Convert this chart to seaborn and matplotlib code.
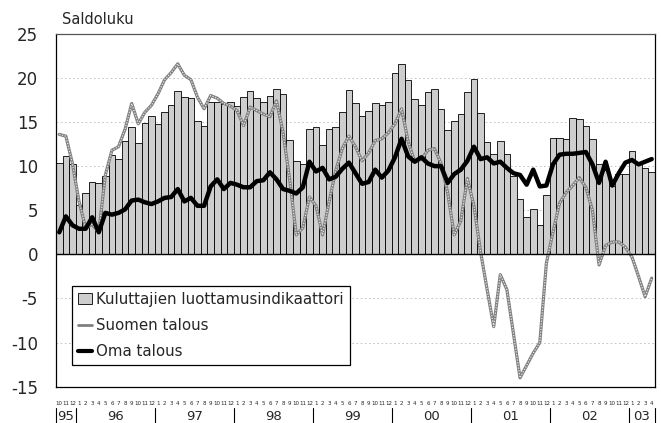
import matplotlib
matplotlib.use("Agg")
import matplotlib.pyplot as plt
import seaborn as sns
import pandas as pd
from matplotlib.patches import Patch
from matplotlib.lines import Line2D

# --- data (monthly, 10/1995 - 4/2003) ---
month_labels = ["10", "11", "12"] + [str(m) for m in range(1, 13)] * 7 + ["1", "2", "3", "4"]
year_labels = ["95", "96", "97", "98", "99", "00", "01", "02", "03"]
year_lengths = [3, 12, 12, 12, 12, 12, 12, 12, 4]

kuluttajat = [
    10.3, 11.2, 10.2, 5.6, 6.9, 8.2, 8.1, 8.9, 11.3, 10.8, 12.8, 14.4,
    12.6, 14.9, 15.7, 14.8, 16.1, 16.9, 18.5, 17.8, 17.7, 15.1, 14.5, 17.3,
    17.3, 17.0, 17.3, 16.8, 17.8, 18.5, 17.7, 17.3, 17.9, 18.8, 18.2, 13.0,
    10.6, 10.2, 14.2, 14.4, 12.4, 14.2, 14.4, 16.1, 18.6, 17.2, 15.7, 16.3,
    17.2, 16.9, 17.3, 20.6, 21.6, 19.8, 17.6, 16.9, 18.4, 18.7, 16.5, 14.1,
    15.1, 15.9, 18.4, 19.9, 16.0, 12.7, 11.4, 12.9, 11.4, 8.9, 6.3, 4.2,
    5.1, 3.3, 6.7, 13.2, 13.2, 13.1, 15.5, 15.4, 14.6, 13.1, 10.2, 9.6,
    7.8, 9.1, 9.1, 11.7, 10.3, 9.8, 9.3,
]
suomen = [
    13.6, 13.4, 10.3, 6.0, 3.0, 3.4, 2.5, 9.0, 11.8, 12.2, 14.2, 17.1,
    14.8, 16.1, 16.9, 18.2, 19.8, 20.6, 21.6, 20.3, 19.8, 17.8, 16.5, 18.0,
    17.7, 17.1, 16.8, 16.3, 14.6, 16.7, 16.3, 15.9, 15.6, 17.4, 13.8, 8.5,
    2.2, 3.0, 6.5, 5.5, 2.2, 6.0, 9.5, 12.0, 13.4, 12.2, 10.6, 11.5,
    12.9, 13.1, 13.8, 14.8, 16.5, 12.8, 10.5, 10.8, 11.8, 12.0, 10.3, 7.0,
    2.2, 3.8, 8.6, 5.5, 0.3, -4.0, -8.2, -2.3, -4.0, -9.0, -14.0, -12.6,
    -11.2, -10.0, -1.0, 2.5, 5.8, 7.0, 7.8, 8.7, 7.6, 5.0, -1.2, 1.0,
    1.4, 1.4, 0.8, -0.3, -2.5, -4.8, -2.7,
]
oma = [
    2.5, 4.3, 3.3, 2.9, 2.9, 4.2, 2.5, 4.7, 4.5, 4.7, 5.1, 6.1,
    6.2, 5.9, 5.7, 6.0, 6.4, 6.5, 7.4, 6.0, 6.4, 5.5, 5.5, 7.7,
    8.5, 7.4, 8.1, 7.9, 7.6, 7.6, 8.3, 8.4, 9.3, 8.5, 7.4, 7.2,
    6.9, 7.6, 10.5, 9.4, 9.8, 8.5, 8.8, 9.7, 10.4, 9.2, 8.0, 8.2,
    9.6, 8.7, 9.5, 11.0, 13.1, 11.1, 10.5, 11.0, 10.3, 10.0, 10.0, 8.1,
    9.1, 9.6, 10.6, 12.2, 10.8, 11.0, 10.3, 10.5, 9.8, 9.2, 9.0, 7.9,
    9.6, 7.7, 7.8, 10.2, 11.3, 11.4, 11.4, 11.5, 11.6, 10.2, 8.1, 10.5,
    7.8, 9.2, 10.4, 10.7, 10.2, 10.5, 10.8,
]

df = pd.DataFrame({
    "idx": range(len(kuluttajat)),
    "kuluttajat": kuluttajat,
    "suomen": suomen,
    "oma": oma,
})

sns.set_theme(style="white")
plt.rcParams["font.family"] = ["Liberation Sans Narrow", "DejaVu Sans"]
plt.rcParams["axes.unicode_minus"] = False

fig = plt.figure(figsize=(6.61, 4.23), dpi=100)
ax = fig.add_axes([0.0847, 0.086, 0.9062, 0.834])

bar_color = "#cecece"
sns.barplot(data=df, x="idx", y="kuluttajat", color=bar_color, saturation=1,
            width=1.0, edgecolor="black", linewidth=0.6, ax=ax, zorder=2)

# Suomen talous: grey "stippled" line
sns.lineplot(data=df, x="idx", y="suomen", color="#808080", linewidth=2.3, ax=ax, zorder=3)
ax.plot(df["idx"], df["suomen"], color="#e6e6e6", linewidth=0.9,
        dashes=(1, 1.2), zorder=4)
# Oma talous: thick black line
sns.lineplot(data=df, x="idx", y="oma", color="black", linewidth=3.2, ax=ax, zorder=5)

ax.axhline(0, color="black", linewidth=1.0, zorder=6)

ax.set_xlim(-0.5, len(kuluttajat) - 0.5)
ax.set_ylim(-15, 25)
ax.set_yticks(range(-15, 30, 5))
ax.set_yticklabels([str(v) for v in range(-15, 30, 5)], fontsize=12)
ax.yaxis.grid(True, color="#bbbbbb", linestyle=(0, (2, 3)), linewidth=0.6)
ax.set_axisbelow(True)
ax.tick_params(axis="y", length=0, pad=13)

ax.set_xticks(range(len(month_labels)))
ax.set_xticklabels(month_labels, fontsize=4.0)
ax.tick_params(axis="x", length=0, pad=10)
ax.set_xlabel("")
ax.set_ylabel("")

for s in ax.spines.values():
    s.set_visible(True)
    s.set_color("black")
    s.set_linewidth(0.9)
ax.spines["top"].set_color("#555555")

# year labels and separators under the month labels
trans = ax.get_xaxis_transform()
start = 0
for lab, n in zip(year_labels, year_lengths):
    ax.plot([start - 0.5, start - 0.5], [-0.062, -0.11], transform=trans,
            color="black", linewidth=0.8, clip_on=False)
    ax.text(start + (n - 1) / 2, -0.066, lab, transform=trans, ha="center",
            va="top", fontsize=9.5)
    start += n
ax.plot([start - 0.5, start - 0.5], [-0.062, -0.11], transform=trans,
        color="black", linewidth=0.8, clip_on=False)

fig.text(0.094, 0.955, "Saldoluku", fontsize=10.5, ha="left", va="center")

handles = [
    Patch(facecolor=bar_color, edgecolor="black", linewidth=0.6),
    Line2D([], [], color="#808080", linewidth=2.0),
    Line2D([], [], color="black", linewidth=3.0),
]
labels = ["Kuluttajien luottamusindikaattori", "Suomen talous", "Oma talous"]
leg = ax.legend(handles, labels, loc="lower left", bbox_to_anchor=(0.015, 0.04),
                fontsize=10.8, frameon=True, fancybox=False, edgecolor="black",
                handlelength=0.9, handletextpad=0.3, borderpad=0.4,
                labelspacing=0.75, framealpha=1)
leg.get_frame().set_linewidth(0.9)

plt.savefig("out.png", dpi=100)
